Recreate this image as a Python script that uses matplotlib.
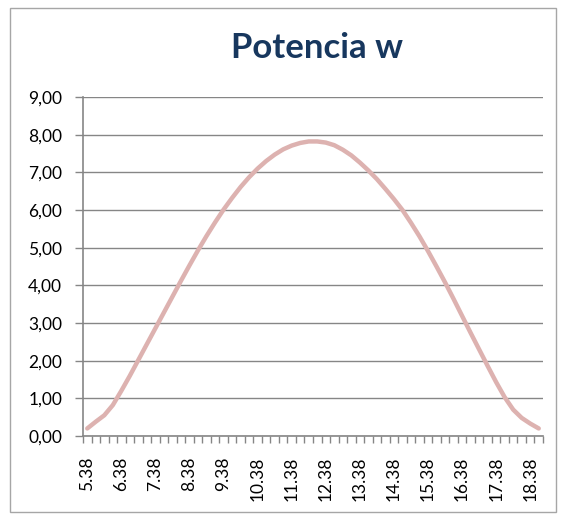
import numpy as np
import matplotlib
matplotlib.use("Agg")
import matplotlib.pyplot as plt
from matplotlib.patches import Rectangle

# categorias (hora cada 15 min), solo se rotula una de cada cuatro
horas = ["5.38", "5.53", "6.08", "6.23", "6.38", "6.53", "7.08", "7.23",
         "7.38", "7.53", "8.08", "8.23", "8.38", "8.53", "9.08", "9.23",
         "9.38", "9.53", "10.08", "10.23", "10.38", "10.53", "11.08", "11.23",
         "11.38", "11.53", "12.08", "12.23", "12.38", "12.53", "13.08", "13.23",
         "13.38", "13.53", "14.08", "14.23", "14.38", "14.53", "15.08", "15.23",
         "15.38", "15.53", "16.08", "16.23", "16.38", "16.53", "17.08", "17.23",
         "17.38", "17.53", "18.08", "18.23", "18.38", "18.53"]

potencia = [0.20, 0.38, 0.55, 0.82, 1.20, 1.60, 2.02, 2.44,
            2.86, 3.28, 3.70, 4.12, 4.53, 4.93, 5.31, 5.67,
            6.01, 6.32, 6.61, 6.87, 7.10, 7.30, 7.47, 7.61,
            7.71, 7.78, 7.82, 7.82, 7.79, 7.72, 7.60, 7.45,
            7.26, 7.05, 6.82, 6.56, 6.29, 6.00, 5.66, 5.30,
            4.91, 4.50, 4.08, 3.64, 3.19, 2.74, 2.30, 1.86,
            1.43, 1.03, 0.70, 0.48, 0.33, 0.20]

y_ticks = [0, 1, 2, 3, 4, 5, 6, 7, 8, 9]

plt.rcParams["font.family"] = ["Lato", "DejaVu Sans"]
gris = "#868686"

fig = plt.figure(figsize=(5.61, 5.14), dpi=100)
fig.patches.append(Rectangle((10 / 561, 2 / 514), 546 / 561, 504 / 514,
                             transform=fig.transFigure, fill=False,
                             edgecolor="#A6A6A6", linewidth=1))

ax = fig.add_axes([83 / 561, 78 / 514, 460 / 561, 339 / 514])
x = np.arange(len(potencia))
ax.plot(x, potencia, color="#DDB2B0", linewidth=3.2, solid_capstyle="round")

ax.set_xlim(-0.5, len(potencia) - 0.5)
ax.set_ylim(0, 9)
ax.set_yticks(y_ticks)
ax.set_yticklabels([("%.2f" % v).replace(".", ",") for v in y_ticks])
ax.grid(axis="y", color=gris, linewidth=1)
ax.set_axisbelow(True)

# marcas entre categorias y rotulos cada 4
ax.set_xticks(np.arange(-0.5, len(potencia), 1))
ax.set_xticklabels([])
ax.set_xticks(x[::4], minor=True)
ax.set_xticklabels(horas[::4], minor=True, rotation=90)
ax.tick_params(axis="x", which="major", length=5, color=gris, width=1)
ax.tick_params(axis="x", which="minor", length=0, pad=15, labelsize=12.5)
ax.tick_params(axis="y", length=6, color=gris, width=1, pad=9, labelsize=12.5)

for s in ["top", "right"]:
    ax.spines[s].set_visible(False)
for s in ["left", "bottom"]:
    ax.spines[s].set_color(gris)
    ax.spines[s].set_linewidth(1.2)

fig.text(317 / 561, 1 - 48 / 514, "Potencia w", ha="center", va="center",
         fontsize=25, fontweight="bold", color="#17375E")

fig.savefig("out.png", dpi=100)
